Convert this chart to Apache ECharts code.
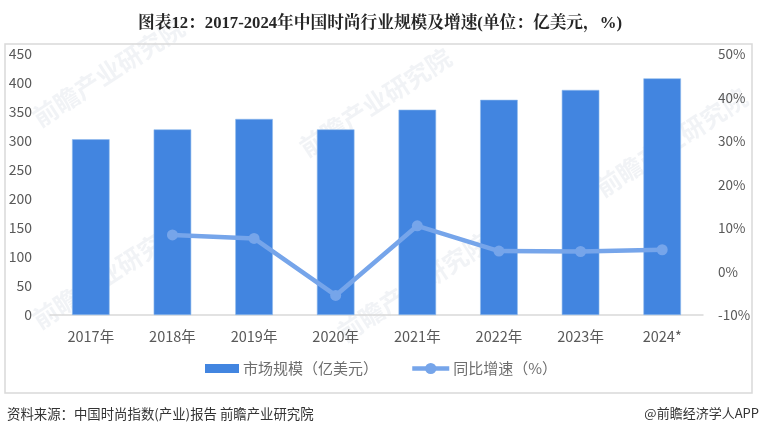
<!DOCTYPE html>
<html><head><meta charset="utf-8">
<style>html,body{margin:0;padding:0;background:#fff}#c{width:760px;height:437px}</style>
<script src="https://cdn.jsdelivr.net/npm/echarts@6/dist/echarts.min.js"></script>
</head><body><div id="c"></div>
<script>
const categories = ['2017年','2018年','2019年','2020年','2021年','2022年','2023年','2024*'];
const marketSize = [303,320,338,320,354,371,388,408];
const growth = [null,8.4,7.6,-5.5,10.5,4.7,4.6,5.0];
const titleText = '图表12\uFF1A2017-2024年中国时尚行业规模及增速(单位\uFF1A亿美元\uFF0C%)';
const sourceText = '资料来源\uFF1A中国时尚指数(产业)报告 前瞻产业研究院';
const creditText = '@前瞻经济学人APP';
const seriesNames = ['市场规模\uFF08亿美元\uFF09','同比增速\uFF08%\uFF09'];
const watermarkText = '前瞻产业研究院';
const font = '"Noto Sans CJK SC","Noto Sans",sans-serif';
const wmSpots = [[35,120],[302,150],[35,322],[340,335],[598,190]];
const chart = echarts.init(document.getElementById('c'),null,{renderer:'canvas'});
const legendText = {fontFamily:font,fontSize:15,color:'#6e6e6e',padding:[0,0,0,-1]};
chart.setOption({
  animation:false,
  backgroundColor:'#fff',
  title:{text:titleText,left:'center',top:10,textStyle:{fontFamily:'"Liberation Serif","Noto Serif CJK SC","Noto Sans CJK SC",serif',fontWeight:'bold',fontSize:16.7,color:'#262626'}},
  grid:{left:50,right:57,top:54,bottom:122},
  legend:[
    {left:200,top:356,itemWidth:34,itemHeight:9,textStyle:legendText,
     data:[{name:seriesNames[0],icon:'rect',itemStyle:{borderWidth:0}}]},
    {left:405,top:356,itemWidth:37,itemHeight:14,textStyle:legendText,
     data:[{name:seriesNames[1],lineStyle:{width:4.5}}]}
  ],
  xAxis:{type:'category',data:categories,
    axisLine:{lineStyle:{color:'#d9d9d9',width:1.5}},axisTick:{show:false},
    axisLabel:{fontFamily:font,fontSize:14.5,color:'#595959',margin:14}},
  yAxis:[
    {type:'value',min:0,max:450,interval:50,splitLine:{show:false},axisLine:{show:false},axisTick:{show:false},
     axisLabel:{fontFamily:font,fontSize:14,color:'#595959',margin:18}},
    {type:'value',min:-10,max:50,interval:10,splitLine:{show:false},axisLine:{show:false},axisTick:{show:false},
     axisLabel:{fontFamily:font,fontSize:13.5,color:'#595959',margin:15,formatter:'{value}%'}}
  ],
  series:[
    {name:seriesNames[0],type:'bar',data:marketSize,barWidth:'46%',itemStyle:{color:'#4285e0',borderColor:'#8fbbec',borderWidth:0.6}},
    {name:seriesNames[1],type:'line',yAxisIndex:1,data:growth,symbol:'circle',symbolSize:11,connectNulls:false,
     lineStyle:{color:'#76a5ea',width:4.5},itemStyle:{color:'#76a5ea'},z:5}
  ],
  graphic:[
    {type:'rect',z:-1,shape:{x:5,y:44,width:747,height:349},style:{fill:'none',stroke:'#d9d9d9',lineWidth:1.5}},
    {type:'text',left:7,top:407,style:{text:sourceText,font:'13.4px '+font,fill:'#333'}},
    {type:'text',right:1,top:407,style:{text:creditText,font:'13px '+font,fill:'#333'}},
    ...wmSpots.map(p=>({type:'text',x:p[0],y:p[1],rotation:Math.PI*33/180,z:-2,silent:true,
      style:{text:watermarkText,font:'bold 25px '+font,fill:'rgba(150,165,185,0.13)',textVerticalAlign:'middle'}}))
  ]
});
</script></body></html>
